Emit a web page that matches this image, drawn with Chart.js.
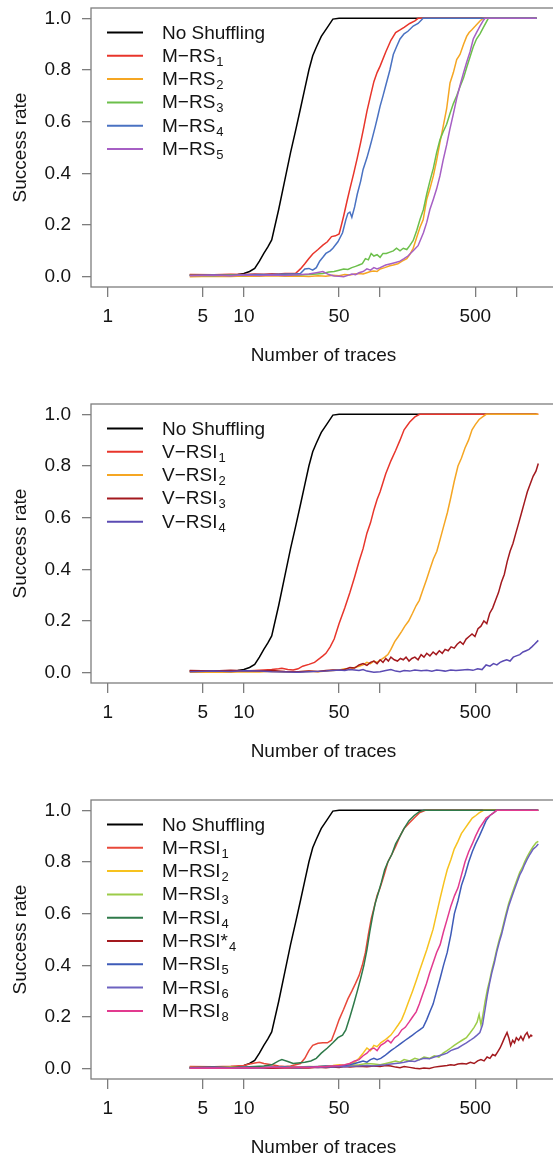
<!DOCTYPE html>
<html>
<head>
<meta charset="utf-8">
<script src="https://cdn.jsdelivr.net/npm/chart.js@4.4.0/dist/chart.umd.min.js"></script>
<style>
  html, body { margin: 0; padding: 0; background: #fff; }
  body { width: 553px; height: 1160px; overflow: hidden; }
  .panel { width: 553px; height: 396px; overflow: hidden; }
  .panel.last { height: 368px; }
  .panel canvas { display: block; }
</style>
</head>
<body>
<div class="panel"><canvas id="panel1" width="560" height="396"></canvas></div>
<div class="panel"><canvas id="panel2" width="560" height="396"></canvas></div>
<div class="panel last"><canvas id="panel3" width="560" height="396"></canvas></div>

<script>
// ==== AXES ====
const xTickValues = [1, 5, 10, 50, 100, 500, 1000];
const xTickLabels = ["1", "5", "10", "50", "", "500", ""];
const yTickValues = [0, 0.2, 0.4, 0.6, 0.8, 1.0];
const xTitle = "Number of traces";
const yTitle = "Success rate";

// ==== DATA: [number of traces, success rate] ====
const noShuffling = [[4,0.006],[5,0.005],[6,0.006],[7,0.006],[8,0.007],[9,0.008],[10,0.012],[11,0.02],[12,0.032],[13,0.06],[14,0.09],[15,0.115],[16,0.142],[18,0.26],[20,0.376],[22,0.48],[24,0.567],[26,0.65],[28,0.728],[30,0.8],[32,0.855],[34,0.888],[37,0.93],[41,0.965],[45,0.997],[50,1],[1410,1]];

// panel 1
const mrs1 = [[4,0.008],[6,0.007],[8,0.009],[10,0.008],[12,0.01],[14,0.009],[16,0.011],[18,0.01],[20,0.012],[22,0.012],[24,0.013],[26,0.03],[28,0.05],[30,0.07],[32,0.088],[35,0.105],[38,0.122],[41,0.135],[44,0.155],[47,0.158],[50,0.165],[52,0.2],[54,0.235],[57,0.29],[60,0.34],[64,0.4],[68,0.46],[72,0.52],[76,0.58],[80,0.64],[85,0.7],[90,0.755],[95,0.79],[100,0.815],[110,0.87],[120,0.915],[130,0.945],[140,0.955],[150,0.965],[165,0.98],[180,0.99],[190,1],[1410,1]];
const mrs2 = [[4,0.0],[6,0.002],[8,0.001],[10,0.003],[13,0.002],[16,0.004],[20,0.002],[25,0.003],[30,0.001],[35,0.004],[40,0.002],[45,0.005],[50,0.004],[55,0.008],[60,0.006],[65,0.01],[70,0.012],[75,0.01],[80,0.015],[85,0.02],[90,0.022],[95,0.02],[100,0.03],[108,0.035],[118,0.042],[125,0.045],[135,0.05],[145,0.06],[157,0.07],[165,0.085],[175,0.11],[185,0.15],[196,0.19],[207,0.22],[220,0.3],[232,0.34],[246,0.39],[260,0.45],[275,0.52],[290,0.58],[308,0.65],[326,0.75],[345,0.79],[365,0.84],[386,0.86],[410,0.9],[432,0.93],[450,0.945],[470,0.955],[500,0.97],[541,0.99],[570,1],[1410,1]];
const mrs3 = [[4,0.005],[6,0.004],[8,0.006],[10,0.005],[13,0.007],[16,0.006],[20,0.007],[25,0.006],[30,0.008],[34,0.01],[38,0.012],[42,0.018],[46,0.02],[50,0.025],[54,0.03],[58,0.028],[62,0.035],[66,0.04],[70,0.045],[74,0.05],[78,0.07],[82,0.065],[86,0.09],[90,0.08],[95,0.085],[100,0.075],[105,0.09],[111,0.09],[118,0.095],[125,0.1],[132,0.11],[140,0.1],[148,0.11],[157,0.105],[165,0.12],[175,0.14],[186,0.18],[196,0.22],[208,0.26],[220,0.32],[232,0.37],[246,0.42],[260,0.48],[275,0.53],[290,0.56],[308,0.59],[325,0.63],[345,0.67],[365,0.7],[386,0.735],[410,0.77],[432,0.81],[457,0.85],[483,0.89],[510,0.92],[541,0.94],[580,0.97],[623,1],[1410,1]];
const mrs4 = [[4,0.005],[6,0.006],[8,0.005],[10,0.007],[12,0.008],[15,0.008],[18,0.009],[21,0.01],[24,0.01],[26,0.012],[28,0.03],[30,0.032],[32,0.025],[34,0.035],[36,0.06],[38,0.075],[40,0.09],[43,0.1],[45,0.11],[49,0.135],[53,0.17],[56,0.22],[58,0.245],[60,0.25],[62,0.23],[65,0.27],[68,0.32],[72,0.37],[75,0.415],[80,0.46],[84,0.5],[88,0.54],[92,0.58],[96,0.62],[100,0.66],[105,0.7],[110,0.74],[118,0.8],[125,0.86],[132,0.89],[140,0.92],[150,0.94],[160,0.95],[175,0.97],[190,0.98],[207,1],[1410,1]];
const mrs5 = [[4,0.004],[6,0.005],[8,0.004],[10,0.006],[13,0.005],[16,0.006],[20,0.005],[25,0.007],[30,0.01],[34,0.015],[38,0.02],[42,0.008],[46,0.003],[50,0.002],[54,0.0],[58,0.005],[62,0.01],[66,0.008],[70,0.015],[75,0.02],[80,0.03],[85,0.025],[90,0.035],[95,0.03],[100,0.035],[110,0.045],[120,0.05],[130,0.055],[140,0.06],[150,0.07],[160,0.08],[175,0.1],[190,0.12],[208,0.17],[220,0.21],[232,0.26],[246,0.3],[260,0.34],[275,0.39],[290,0.45],[308,0.51],[325,0.57],[345,0.63],[365,0.69],[386,0.74],[410,0.79],[432,0.83],[457,0.87],[483,0.92],[510,0.945],[541,0.97],[570,0.99],[589,1],[1410,1]];

// panel 2
const vrsi1 = [[4,0.006],[6,0.005],[8,0.007],[10,0.006],[12,0.008],[14,0.01],[16,0.012],[18,0.015],[19,0.017],[21,0.012],[23,0.01],[25,0.015],[27,0.025],[30,0.032],[33,0.04],[36,0.055],[38,0.065],[40,0.075],[43,0.1],[46,0.13],[50,0.19],[55,0.25],[60,0.31],[65,0.37],[70,0.43],[75,0.48],[80,0.54],[85,0.58],[90,0.63],[95,0.67],[100,0.7],[110,0.77],[120,0.82],[130,0.86],[140,0.9],[150,0.94],[165,0.97],[180,0.99],[195,1],[1450,1]];
const vrsi2 = [[4,0.002],[6,0.003],[8,0.002],[10,0.004],[13,0.003],[16,0.005],[20,0.003],[25,0.004],[30,0.005],[35,0.004],[40,0.006],[45,0.008],[50,0.01],[55,0.015],[60,0.012],[65,0.02],[70,0.025],[75,0.03],[80,0.04],[85,0.035],[90,0.045],[95,0.04],[101,0.05],[108,0.06],[114,0.07],[120,0.09],[128,0.12],[136,0.14],[144,0.16],[152,0.18],[162,0.2],[173,0.23],[184,0.26],[194,0.28],[206,0.32],[219,0.36],[232,0.4],[246,0.44],[261,0.47],[277,0.52],[294,0.57],[312,0.62],[331,0.68],[350,0.74],[373,0.8],[395,0.83],[420,0.87],[446,0.9],[473,0.94],[500,0.96],[533,0.98],[565,0.99],[600,1],[1450,1]];
const vrsi3 = [[4,0.008],[6,0.006],[8,0.009],[10,0.007],[13,0.006],[16,0.008],[20,0.005],[25,0.004],[30,0.006],[35,0.005],[40,0.008],[45,0.01],[50,0.009],[55,0.012],[60,0.02],[65,0.018],[70,0.03],[75,0.035],[80,0.028],[85,0.04],[90,0.045],[95,0.035],[100,0.05],[105,0.04],[110,0.055],[115,0.045],[120,0.06],[127,0.05],[134,0.045],[141,0.055],[148,0.05],[155,0.06],[163,0.045],[171,0.055],[180,0.06],[190,0.05],[200,0.07],[210,0.06],[220,0.075],[232,0.065],[245,0.08],[258,0.07],[272,0.085],[286,0.075],[300,0.09],[316,0.085],[332,0.1],[350,0.095],[368,0.11],[387,0.12],[407,0.11],[428,0.13],[450,0.14],[473,0.15],[497,0.14],[523,0.17],[550,0.18],[578,0.2],[607,0.19],[638,0.23],[670,0.25],[704,0.28],[740,0.31],[777,0.35],[816,0.38],[857,0.43],[900,0.47],[945,0.5],[992,0.54],[1042,0.58],[1094,0.62],[1148,0.66],[1205,0.7],[1265,0.73],[1328,0.76],[1394,0.78],[1450,0.81]];
const vrsi4 = [[4,0.004],[6,0.006],[8,0.005],[10,0.007],[13,0.006],[16,0.004],[20,0.003],[25,0.002],[30,0.004],[35,0.005],[40,0.006],[45,0.008],[50,0.01],[55,0.008],[60,0.012],[65,0.01],[70,0.008],[75,0.012],[80,0.006],[90,0.002],[100,0.004],[110,0.008],[120,0.012],[130,0.006],[140,0.004],[150,0.008],[165,0.006],[180,0.01],[200,0.007],[220,0.009],[240,0.006],[260,0.01],[280,0.008],[300,0.006],[330,0.01],[360,0.008],[400,0.01],[440,0.012],[480,0.009],[520,0.015],[560,0.012],[600,0.03],[640,0.025],[680,0.035],[720,0.03],[760,0.04],[800,0.045],[850,0.05],[900,0.045],[950,0.06],[1000,0.065],[1060,0.07],[1120,0.08],[1180,0.085],[1240,0.09],[1300,0.1],[1360,0.11],[1450,0.125]];

// panel 3
const mrsi1 = [[4,0.008],[6,0.007],[8,0.009],[10,0.012],[11,0.018],[12,0.022],[13,0.025],[14,0.02],[16,0.015],[18,0.01],[20,0.008],[22,0.01],[24,0.015],[26,0.02],[28,0.04],[30,0.07],[32,0.09],[35,0.098],[38,0.1],[41,0.1],[44,0.11],[47,0.15],[50,0.19],[54,0.23],[58,0.27],[62,0.3],[66,0.33],[70,0.36],[74,0.4],[78,0.45],[82,0.52],[86,0.58],[90,0.62],[95,0.67],[100,0.7],[107,0.75],[114,0.8],[122,0.83],[130,0.86],[140,0.9],[150,0.93],[163,0.95],[178,0.97],[194,0.99],[215,1],[1450,1]];
const mrsi2 = [[4,0.003],[6,0.002],[8,0.004],[10,0.003],[13,0.005],[16,0.004],[20,0.006],[25,0.005],[30,0.007],[35,0.008],[40,0.01],[45,0.012],[50,0.015],[55,0.013],[60,0.02],[65,0.025],[70,0.04],[75,0.06],[80,0.08],[85,0.07],[90,0.09],[95,0.085],[101,0.1],[108,0.11],[114,0.12],[120,0.13],[128,0.15],[136,0.17],[144,0.19],[152,0.22],[162,0.26],[173,0.3],[184,0.34],[195,0.38],[207,0.42],[220,0.46],[232,0.5],[245,0.54],[260,0.6],[276,0.66],[294,0.72],[311,0.77],[331,0.81],[350,0.85],[373,0.88],[395,0.91],[420,0.93],[446,0.95],[475,0.97],[505,0.98],[533,0.99],[575,1],[1450,1]];
const mrsi3 = [[4,0.005],[6,0.004],[8,0.006],[10,0.005],[13,0.006],[16,0.005],[20,0.007],[25,0.006],[30,0.008],[35,0.007],[40,0.009],[45,0.01],[50,0.008],[55,0.01],[60,0.012],[70,0.015],[80,0.02],[90,0.018],[100,0.015],[110,0.02],[120,0.025],[130,0.03],[140,0.025],[150,0.035],[165,0.03],[180,0.04],[195,0.035],[210,0.045],[230,0.04],[250,0.05],[270,0.045],[290,0.06],[310,0.07],[330,0.08],[350,0.09],[373,0.1],[400,0.11],[430,0.12],[460,0.14],[490,0.16],[515,0.18],[533,0.21],[550,0.17],[565,0.2],[590,0.26],[615,0.31],[636,0.34],[660,0.38],[690,0.42],[717,0.46],[750,0.5],[780,0.53],[805,0.56],[840,0.6],[880,0.64],[920,0.67],[963,0.7],[1010,0.73],[1060,0.76],[1110,0.78],[1150,0.8],[1200,0.82],[1260,0.84],[1330,0.86],[1400,0.875],[1450,0.88]];
const mrsi4 = [[4,0.004],[6,0.005],[8,0.004],[10,0.006],[12,0.008],[14,0.01],[16,0.015],[18,0.03],[19,0.035],[21,0.028],[23,0.02],[25,0.022],[28,0.025],[31,0.03],[34,0.04],[37,0.06],[41,0.08],[45,0.1],[49,0.12],[53,0.13],[56,0.15],[60,0.2],[64,0.25],[68,0.3],[72,0.35],[76,0.4],[80,0.46],[84,0.53],[88,0.59],[92,0.64],[97,0.68],[102,0.72],[108,0.77],[114,0.8],[122,0.83],[130,0.87],[140,0.9],[150,0.93],[163,0.96],[178,0.98],[194,0.995],[210,1],[1450,1]];
const mrsi4star = [[4,0.002],[6,0.003],[8,0.002],[10,0.004],[13,0.003],[16,0.002],[20,0.003],[25,0.004],[30,0.003],[35,0.005],[40,0.004],[45,0.006],[50,0.005],[55,0.008],[60,0.006],[70,0.009],[80,0.007],[90,0.01],[100,0.008],[110,0.012],[120,0.01],[130,0.006],[140,0.004],[150,0.008],[165,0.005],[180,0.002],[195,0.0],[210,0.003],[230,0.001],[250,0.006],[270,0.008],[290,0.01],[310,0.012],[330,0.015],[350,0.013],[373,0.018],[400,0.02],[430,0.018],[460,0.025],[490,0.02],[520,0.03],[550,0.035],[580,0.03],[610,0.045],[640,0.04],[670,0.055],[700,0.05],[730,0.065],[760,0.08],[790,0.1],[820,0.12],[855,0.14],[880,0.12],[909,0.09],[940,0.11],[970,0.1],[1000,0.12],[1040,0.11],[1080,0.125],[1120,0.11],[1160,0.13],[1200,0.14],[1240,0.12],[1280,0.13],[1310,0.125]];
const mrsi5 = [[4,0.004],[6,0.005],[8,0.004],[10,0.003],[13,0.004],[16,0.005],[20,0.006],[25,0.005],[30,0.006],[35,0.008],[40,0.01],[45,0.008],[50,0.01],[55,0.012],[60,0.015],[65,0.02],[70,0.025],[75,0.03],[80,0.025],[85,0.035],[90,0.04],[95,0.035],[101,0.04],[108,0.05],[114,0.06],[120,0.07],[128,0.08],[136,0.09],[144,0.1],[153,0.11],[163,0.12],[173,0.13],[183,0.14],[195,0.15],[207,0.16],[220,0.19],[232,0.22],[245,0.25],[260,0.3],[276,0.35],[292,0.4],[311,0.45],[331,0.52],[351,0.6],[373,0.65],[396,0.71],[420,0.75],[447,0.8],[475,0.84],[502,0.87],[535,0.9],[567,0.93],[600,0.96],[640,0.98],[680,0.99],[717,1],[1450,1]];
const mrsi6 = [[4,0.003],[6,0.004],[8,0.003],[10,0.005],[13,0.004],[16,0.006],[20,0.005],[25,0.004],[30,0.006],[35,0.005],[40,0.007],[45,0.006],[50,0.008],[55,0.007],[60,0.009],[70,0.01],[80,0.012],[90,0.01],[100,0.013],[110,0.015],[120,0.018],[130,0.02],[140,0.022],[150,0.025],[165,0.03],[180,0.028],[195,0.035],[210,0.04],[230,0.038],[250,0.045],[270,0.05],[290,0.055],[310,0.06],[330,0.07],[350,0.075],[373,0.08],[400,0.09],[430,0.1],[460,0.11],[490,0.12],[515,0.13],[540,0.14],[565,0.17],[590,0.23],[615,0.29],[636,0.33],[660,0.37],[690,0.41],[717,0.45],[750,0.49],[780,0.52],[805,0.55],[840,0.59],[880,0.63],[920,0.66],[963,0.69],[1010,0.72],[1060,0.75],[1110,0.77],[1150,0.79],[1200,0.81],[1260,0.83],[1330,0.85],[1400,0.86],[1450,0.87]];
const mrsi8 = [[4,0.002],[6,0.003],[8,0.002],[10,0.004],[13,0.003],[16,0.005],[20,0.004],[25,0.006],[30,0.005],[35,0.007],[40,0.008],[45,0.01],[50,0.012],[55,0.015],[60,0.02],[65,0.03],[70,0.035],[75,0.05],[80,0.06],[85,0.075],[90,0.08],[95,0.07],[101,0.09],[108,0.1],[114,0.11],[120,0.1],[128,0.12],[136,0.13],[144,0.15],[153,0.16],[163,0.18],[173,0.2],[184,0.22],[194,0.25],[206,0.29],[219,0.33],[231,0.37],[245,0.41],[260,0.45],[276,0.48],[292,0.53],[311,0.58],[331,0.63],[352,0.67],[373,0.7],[396,0.75],[420,0.8],[447,0.84],[475,0.87],[502,0.9],[535,0.93],[567,0.95],[600,0.97],[640,0.98],[680,0.99],[717,1],[1450,1]];

// ==== LEGENDS (name + subscript) ====
const p1Names = ["No Shuffling", "M\u2212RS", "M\u2212RS", "M\u2212RS", "M\u2212RS", "M\u2212RS"];
const p1Subs = ["", "1", "2", "3", "4", "5"];
const p1Colors = ["#000000", "#e8352b", "#f5a623", "#6cbf4b", "#4a72c2", "#a65fc4"];
const p1Series = [noShuffling, mrs1, mrs2, mrs3, mrs4, mrs5];

const p2Names = ["No Shuffling", "V\u2212RSI", "V\u2212RSI", "V\u2212RSI", "V\u2212RSI"];
const p2Subs = ["", "1", "2", "3", "4"];
const p2Colors = ["#000000", "#e8352b", "#f5a623", "#a3191e", "#5b4bb3"];
const p2Series = [noShuffling, vrsi1, vrsi2, vrsi3, vrsi4];

const p3Names = ["No Shuffling", "M\u2212RSI", "M\u2212RSI", "M\u2212RSI", "M\u2212RSI", "M\u2212RSI*", "M\u2212RSI", "M\u2212RSI", "M\u2212RSI"];
const p3Subs = ["", "1", "2", "3", "4", "4", "5", "6", "8"];
const p3Colors = ["#000000", "#e8483a", "#f7c21e", "#9ccc48", "#2f7a4a", "#a3191e", "#3e5bb8", "#6d62c0", "#e23a8f"];
const p3Series = [noShuffling, mrsi1, mrsi2, mrsi3, mrsi4, mrsi4star, mrsi5, mrsi6, mrsi8];

// ==== STYLE ====
const FONT = "'Liberation Sans', Arial, sans-serif";
const TEXT = "#141414";
const AXIS = "#7d7d7d";
const X_MIN = 0.754, X_MAX = 1956;

// R-style full box round the plot region
const boxPlugin = {
  id: "rbox",
  afterDraw(chart) {
    const { ctx, chartArea: a } = chart;
    ctx.save();
    ctx.strokeStyle = AXIS;
    ctx.lineWidth = 1.3;
    ctx.strokeRect(a.left, a.top, a.right - a.left, a.bottom - a.top);
    ctx.restore();
  }
};

// legend with subscripts, top left inside the box
const legendPlugin = {
  id: "rlegend",
  afterDraw(chart) {
    const { ctx, chartArea: a } = chart;
    ctx.save();
    chart.data.datasets.forEach((ds, i) => {
      const y = a.top + 24.5 + i * 23.3;
      ctx.strokeStyle = ds.borderColor;
      ctx.lineWidth = 2;
      ctx.beginPath();
      ctx.moveTo(107, y);
      ctx.lineTo(143, y);
      ctx.stroke();
      ctx.fillStyle = TEXT;
      ctx.textBaseline = "alphabetic";
      ctx.font = `19px ${FONT}`;
      ctx.fillText(ds.label, 162, y + 6);
      if (ds.sub) {
        const w = ctx.measureText(ds.label).width;
        ctx.font = `13px ${FONT}`;
        ctx.fillText(ds.sub, 162 + w + 1, y + 10);
      }
    });
    ctx.restore();
  }
};

// keep the plot box fixed: no extra room for half-labels at the ends
function noEdgePadding(s) {
  s.paddingTop = 0;
  s.paddingBottom = 0;
  s.paddingLeft = 0;
  s.paddingRight = 0;
}

function drawPanel(id, names, subs, colors, series) {
  const font = { family: FONT, size: 19 };
  new Chart(document.getElementById(id), {
    type: "line",
    data: {
      datasets: series.map((pts, i) => ({
        label: names[i],
        sub: subs[i],
        borderColor: colors[i],
        data: pts.map(([x, y]) => ({ x, y })),
        order: series.length - i,
        borderWidth: 1.5,
        pointRadius: 0,
        tension: 0,
        fill: false
      }))
    },
    options: {
      responsive: false,
      animation: false,
      layout: { padding: { top: 8, right: 4, bottom: 0, left: 0 } },
      plugins: { legend: { display: false }, tooltip: { enabled: false } },
      scales: {
        x: {
          type: "logarithmic",
          min: X_MIN,
          max: X_MAX,
          bounds: "data",
          afterBuildTicks: s => { s.ticks = xTickValues.map(v => ({ value: v })); },
          afterFit: s => { s.height = 109; noEdgePadding(s); },
          ticks: {
            autoSkip: false, maxRotation: 0, minRotation: 0, padding: 8,
            color: TEXT, font,
            callback: (v, i) => xTickLabels[i]
          },
          grid: { drawOnChartArea: false, drawTicks: true, tickLength: 10, color: AXIS, lineWidth: 1.3 },
          border: { display: false },
          title: { display: true, text: xTitle, color: TEXT, font, padding: { top: 0, bottom: 29 } }
        },
        y: {
          type: "linear",
          min: -0.04,
          max: 1.04,
          bounds: "data",
          afterBuildTicks: s => { s.ticks = yTickValues.map(v => ({ value: v })); },
          afterFit: s => { s.width = 91; noEdgePadding(s); },
          ticks: { padding: 11, color: TEXT, font, callback: v => v.toFixed(1) },
          grid: { drawOnChartArea: false, drawTicks: true, tickLength: 9, color: AXIS, lineWidth: 1.3 },
          border: { display: false },
          title: { display: true, text: yTitle, color: TEXT, font, padding: { top: 9, bottom: 0 } }
        }
      }
    },
    plugins: [boxPlugin, legendPlugin]
  });
}

drawPanel("panel1", p1Names, p1Subs, p1Colors, p1Series);
drawPanel("panel2", p2Names, p2Subs, p2Colors, p2Series);
drawPanel("panel3", p3Names, p3Subs, p3Colors, p3Series);
</script>
</body>
</html>
